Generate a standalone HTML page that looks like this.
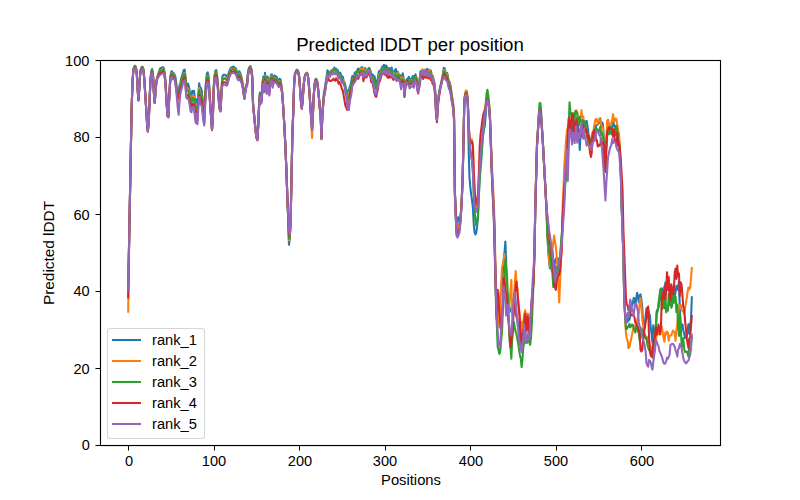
<!DOCTYPE html>
<html>
<head>
<meta charset="utf-8">
<title>Predicted lDDT per position</title>
<style>
html,body{margin:0;padding:0;background:#ffffff;}
body{width:800px;height:500px;overflow:hidden;position:relative;font-family:"Liberation Sans",sans-serif;color:#000;}
svg{position:absolute;left:0;top:0;display:block;}
.t{position:absolute;white-space:nowrap;line-height:1;font-family:"Liberation Sans",sans-serif;color:#000;}
.xt{font-size:14px;transform:translateX(-50%) scaleX(1.04);top:454px;}
.yt{font-size:14px;text-align:right;right:710.5px;transform-origin:right center;transform:scaleX(1.04);}
.lg{font-size:14px;left:152px;transform-origin:left center;transform:scaleX(1.05);}
</style>
</head>
<body>
<svg width="800" height="500" viewBox="0 0 800 500">
<rect x="0" y="0" width="800" height="500" fill="#ffffff"/>
<g fill="none" stroke-width="2.083" stroke-linejoin="round" stroke-linecap="square">
<polyline points="128.18,289.33 129.04,244.69 129.89,199.97 130.75,154.71 131.60,109.45 132.46,82.80 133.31,69.52 134.17,66.55 135.02,65.68 135.88,66.88 136.73,71.87 137.59,87.70 138.45,100.12 139.30,87.87 140.16,73.14 141.01,68.22 141.87,66.88 142.72,66.77 143.58,69.76 144.43,80.34 145.29,94.13 146.14,107.44 147.00,122.01 147.85,130.87 148.71,120.98 149.56,100.29 150.42,79.44 151.27,71.17 152.13,68.97 152.99,74.02 153.84,90.84 154.70,102.26 155.55,90.95 156.41,80.46 157.26,77.36 158.12,74.61 158.97,71.81 159.83,68.96 160.68,68.03 161.54,67.94 162.39,67.32 163.25,67.21 164.10,69.30 164.96,75.26 165.81,86.62 166.67,102.39 167.53,114.92 168.38,116.20 169.24,95.95 170.09,79.97 170.95,72.60 171.80,71.13 172.66,73.39 173.51,73.11 174.37,74.31 175.22,76.15 176.08,81.30 176.93,91.26 177.79,96.67 178.64,90.83 179.50,85.39 180.35,82.73 181.21,78.60 182.07,75.93 182.92,72.82 183.78,70.12 184.63,69.55 185.49,76.07 186.34,84.51 187.20,86.42 188.05,83.72 188.91,86.66 189.76,91.31 190.62,94.61 191.47,96.98 192.33,90.89 193.18,91.88 194.04,90.88 194.89,100.04 195.75,108.78 196.61,99.32 197.46,110.19 198.32,93.97 199.17,83.38 200.03,87.47 200.88,87.84 201.74,91.10 202.59,98.79 203.45,107.39 204.30,113.00 205.16,92.87 206.01,81.18 206.87,73.42 207.72,72.38 208.58,76.28 209.43,88.60 210.29,102.58 211.14,115.37 212.00,129.37 212.86,116.90 213.71,86.20 214.57,75.26 215.42,70.68 216.28,70.15 217.13,75.63 217.99,86.15 218.84,98.46 219.70,107.30 220.55,109.75 221.41,90.90 222.26,76.79 223.12,75.13 223.97,74.65 224.83,74.81 225.68,75.08 226.54,76.47 227.40,76.39 228.25,74.32 229.11,71.57 229.96,69.59 230.82,67.94 231.67,67.23 232.53,66.88 233.38,66.62 234.24,67.24 235.09,67.95 235.95,68.54 236.80,70.80 237.66,73.05 238.51,73.11 239.37,71.25 240.22,73.10 241.08,75.92 241.94,79.09 242.79,84.60 243.65,91.94 244.50,97.70 245.36,89.01 246.21,84.62 247.07,83.12 247.92,73.34 248.78,68.52 249.63,66.60 250.49,66.10 251.34,68.79 252.20,75.33 253.05,103.16 253.91,112.15 254.76,121.15 255.62,130.55 256.48,137.27 257.33,140.00 258.19,125.69 259.04,104.86 259.90,92.49 260.75,99.52 261.61,97.03 262.46,82.34 263.32,76.47 264.17,85.32 265.03,72.91 265.88,82.73 266.74,86.69 267.59,76.44 268.45,80.24 269.30,88.67 270.16,80.05 271.02,74.67 271.87,74.42 272.73,82.12 273.58,76.96 274.44,75.43 275.29,76.77 276.15,76.32 277.00,77.64 277.86,79.22 278.71,79.76 279.57,78.89 280.42,79.23 281.28,84.64 282.13,90.65 282.99,104.31 283.84,117.10 284.70,132.65 285.56,150.11 286.41,170.93 287.27,195.82 288.12,217.16 288.98,244.77 289.83,238.68 290.69,218.01 291.54,175.80 292.40,133.84 293.25,111.77 294.11,83.89 294.96,73.67 295.82,71.36 296.67,69.69 297.53,70.06 298.38,71.74 299.24,76.59 300.10,88.57 300.95,100.76 301.81,107.86 302.66,99.77 303.52,86.65 304.37,78.59 305.23,74.57 306.08,73.44 306.94,72.67 307.79,74.54 308.65,81.39 309.50,92.84 310.36,105.00 311.21,116.66 312.07,129.22 312.92,112.95 313.78,94.54 314.64,83.58 315.49,79.26 316.35,78.90 317.20,81.42 318.06,87.68 318.91,96.77 319.77,107.24 320.62,114.21 321.48,138.18 322.33,114.46 323.19,101.85 324.04,92.19 324.90,87.86 325.75,81.85 326.61,76.74 327.46,70.31 328.32,71.31 329.17,74.41 330.03,74.14 330.89,72.18 331.74,71.11 332.60,69.56 333.45,69.88 334.31,67.53 335.16,69.69 336.02,68.58 336.87,69.53 337.73,70.19 338.58,72.69 339.44,74.33 340.29,72.76 341.15,75.29 342.00,76.91 342.86,76.79 343.71,82.05 344.57,82.54 345.43,85.63 346.28,90.47 347.14,97.07 347.99,90.73 348.85,89.75 349.70,87.11 350.56,84.47 351.41,80.53 352.27,76.10 353.12,77.07 353.98,76.88 354.83,72.58 355.69,72.29 356.54,71.67 357.40,70.13 358.25,68.49 359.11,70.45 359.97,69.47 360.82,68.34 361.68,67.10 362.53,67.44 363.39,72.35 364.24,70.96 365.10,68.12 365.95,69.68 366.81,71.20 367.66,70.17 368.52,69.41 369.37,68.04 370.23,69.97 371.08,72.80 371.94,75.21 372.79,74.63 373.65,79.06 374.51,76.35 375.36,80.41 376.22,84.98 377.07,82.82 377.93,77.39 378.78,71.64 379.64,70.66 380.49,71.59 381.35,68.68 382.20,66.62 383.06,68.48 383.91,64.77 384.77,68.88 385.62,65.53 386.48,65.71 387.33,70.55 388.19,71.36 389.05,67.91 389.90,69.26 390.76,70.64 391.61,67.57 392.47,70.68 393.32,73.28 394.18,73.40 395.03,70.15 395.89,68.97 396.74,74.35 397.60,71.78 398.45,73.71 399.31,74.38 400.16,75.38 401.02,81.67 401.87,77.53 402.73,73.28 403.59,78.11 404.44,97.08 405.30,88.64 406.15,81.05 407.01,78.80 407.86,79.75 408.72,76.81 409.57,78.54 410.43,79.08 411.28,79.69 412.14,77.73 412.99,75.97 413.85,80.58 414.70,75.77 415.56,74.47 416.41,77.50 417.27,85.19 418.13,85.17 418.98,83.95 419.84,77.79 420.69,71.04 421.55,72.89 422.40,70.20 423.26,71.13 424.11,70.02 424.97,70.40 425.82,72.96 426.68,69.07 427.53,69.28 428.39,72.52 429.24,69.68 430.10,70.93 430.95,70.82 431.81,75.92 432.67,75.77 433.52,79.74 434.38,82.55 435.23,90.77 436.09,113.16 436.94,120.01 437.80,105.19 438.65,96.49 439.51,90.03 440.36,86.41 441.22,82.80 442.07,78.31 442.93,74.32 443.78,67.92 444.64,68.24 445.49,72.31 446.35,72.98 447.20,73.06 448.06,77.45 448.92,81.35 449.77,82.16 450.63,86.38 451.48,93.13 452.34,98.32 453.19,104.22 454.05,116.09 454.90,191.74 455.76,210.84 456.61,225.39 457.47,223.63 458.32,217.40 459.18,219.06 460.03,217.94 460.89,212.43 461.74,198.81 462.60,178.75 463.46,142.64 464.31,101.48 465.17,94.81 466.02,93.80 466.88,95.63 467.73,105.63 468.59,146.41 469.44,176.72 470.30,186.94 471.15,194.31 472.01,200.42 472.86,207.07 473.72,223.54 474.57,232.34 475.43,234.49 476.28,232.62 477.14,226.20 478.00,215.65 478.85,195.06 479.71,173.57 480.56,160.23 481.42,149.71 482.27,141.74 483.13,134.79 483.98,129.17 484.84,125.49 485.69,115.66 486.55,103.17 487.40,98.14 488.26,101.14 489.11,107.03 489.97,119.10 490.82,142.11 491.68,166.48 492.54,185.27 493.39,201.99 494.25,222.81 495.10,259.79 495.96,293.96 496.81,316.99 497.67,304.22 498.52,308.13 499.38,303.68 500.23,297.15 501.09,289.18 501.94,281.48 502.80,273.39 503.65,260.41 504.51,252.98 505.36,241.50 506.22,263.15 507.08,292.78 507.93,297.98 508.79,304.66 509.64,308.55 510.50,308.70 511.35,312.04 512.21,307.46 513.06,299.26 513.92,302.81 514.77,309.13 515.63,314.18 516.48,316.80 517.34,319.38 518.19,326.62 519.05,327.32 519.90,337.32 520.76,341.07 521.62,325.52 522.47,333.15 523.33,340.64 524.18,336.26 525.04,333.68 525.89,331.21 526.75,323.24 527.60,313.84 528.46,319.43 529.31,327.13 530.17,318.67 531.02,309.18 531.88,298.48 532.73,289.83 533.59,280.75 534.44,254.81 535.30,206.93 536.16,176.20 537.01,144.78 537.87,131.41 538.72,118.03 539.58,108.16 540.43,108.22 541.29,117.85 542.14,131.77 543.00,144.96 543.85,160.28 544.71,175.80 545.56,191.46 546.42,207.34 547.27,227.62 548.13,249.15 548.98,259.70 549.84,268.29 550.70,253.80 551.55,250.72 552.41,250.62 553.26,261.18 554.12,268.20 554.97,262.09 555.83,258.57 556.68,258.40 557.54,257.78 558.39,259.19 559.25,262.16 560.10,257.79 560.96,248.11 561.81,235.90 562.67,224.11 563.52,210.54 564.38,194.74 565.23,159.77 566.09,149.94 566.95,140.46 567.80,133.90 568.66,129.78 569.51,128.50 570.37,125.75 571.22,123.21 572.08,139.80 572.93,127.25 573.79,123.79 574.64,118.39 575.50,124.13 576.35,118.00 577.21,126.23 578.06,125.38 578.92,131.79 579.77,150.00 580.63,132.69 581.49,125.13 582.34,126.74 583.20,120.45 584.05,121.59 584.91,123.35 585.76,122.00 586.62,120.91 587.47,125.95 588.33,132.36 589.18,142.57 590.04,141.33 590.89,142.33 591.75,141.26 592.60,137.98 593.46,135.99 594.31,139.61 595.17,136.11 596.03,125.46 596.88,125.22 597.74,124.55 598.59,123.28 599.45,118.76 600.30,118.87 601.16,127.29 602.01,122.28 602.87,124.19 603.72,136.27 604.58,159.12 605.43,168.57 606.29,143.35 607.14,132.24 608.00,120.13 608.85,127.66 609.71,126.96 610.57,124.63 611.42,129.65 612.28,126.47 613.13,121.10 613.99,126.16 614.84,125.54 615.70,127.71 616.55,132.31 617.41,130.12 618.26,138.20 619.12,140.49 619.97,157.72 620.83,175.54 621.68,207.28 622.54,230.86 623.39,254.78 624.25,300.15 625.11,314.93 625.96,319.58 626.82,318.84 627.67,321.86 628.53,317.07 629.38,319.81 630.24,316.19 631.09,308.13 631.95,305.83 632.80,303.60 633.66,297.97 634.51,298.39 635.37,304.61 636.22,298.79 637.08,292.86 637.93,295.68 638.79,302.12 639.65,296.00 640.50,294.38 641.36,299.20 642.21,307.10 643.07,322.45 643.92,322.01 644.78,327.12 645.63,315.92 646.49,308.29 647.34,311.63 648.20,309.51 649.05,313.42 649.91,315.60 650.76,327.74 651.62,333.67 652.47,342.55 653.33,325.41 654.19,330.50 655.04,329.17 655.90,328.96 656.75,311.29 657.61,309.53 658.46,307.99 659.32,299.57 660.17,293.47 661.03,299.31 661.88,288.22 662.74,290.95 663.59,290.78 664.45,296.38 665.30,282.63 666.16,286.15 667.01,284.41 667.87,288.60 668.73,290.51 669.58,285.69 670.44,293.00 671.29,287.75 672.15,289.71 673.00,287.47 673.86,286.14 674.71,296.75 675.57,291.64 676.42,285.79 677.28,289.62 678.13,287.48 678.99,281.59 679.84,309.15 680.70,326.89 681.55,326.85 682.41,324.39 683.27,330.48 684.12,333.22 684.98,338.02 685.83,336.27 686.69,337.38 687.54,330.81 688.40,324.26 689.25,333.57 690.11,324.40 690.96,320.81 691.82,297.26" stroke="#1f77b4"/>
<polyline points="128.18,311.79 129.04,247.44 129.89,200.25 130.75,154.88 131.60,109.59 132.46,83.07 133.31,70.07 134.17,67.21 135.02,66.31 135.88,67.48 136.73,72.21 137.59,88.15 138.45,100.24 139.30,88.10 140.16,73.59 141.01,68.64 141.87,67.73 142.72,67.63 143.58,70.44 144.43,80.90 145.29,94.51 146.14,107.71 147.00,122.27 147.85,131.17 148.71,121.53 149.56,101.09 150.42,80.30 151.27,72.18 152.13,70.50 152.99,75.11 153.84,91.57 154.70,102.55 155.55,91.20 156.41,80.85 157.26,77.98 158.12,75.44 158.97,73.05 159.83,70.81 160.68,70.04 161.54,69.75 162.39,69.30 163.25,68.98 164.10,70.98 164.96,76.54 165.81,87.70 166.67,103.27 167.53,115.40 168.38,116.44 169.24,96.64 170.09,81.21 170.95,74.17 171.80,73.03 172.66,75.37 173.51,74.87 174.37,76.08 175.22,78.83 176.08,83.98 176.93,92.97 177.79,100.57 178.64,97.76 179.50,90.83 180.35,85.41 181.21,82.25 182.07,79.51 182.92,76.13 183.78,73.52 184.63,73.12 185.49,78.67 186.34,88.84 187.20,88.63 188.05,88.56 188.91,91.52 189.76,95.70 190.62,99.37 191.47,102.02 192.33,95.75 193.18,97.12 194.04,96.64 194.89,105.73 195.75,112.84 196.61,104.29 197.46,114.42 198.32,97.84 199.17,87.85 200.03,93.29 200.88,93.39 201.74,96.11 202.59,103.10 203.45,111.79 204.30,115.65 205.16,96.86 206.01,85.16 206.87,77.38 207.72,75.52 208.58,79.14 209.43,90.52 210.29,104.66 211.14,116.51 212.00,129.14 212.86,117.94 213.71,87.80 214.57,77.75 215.42,72.51 216.28,72.50 217.13,77.70 217.99,87.92 218.84,99.78 219.70,108.05 220.55,110.49 221.41,92.56 222.26,79.29 223.12,78.05 223.97,77.74 224.83,77.88 225.68,78.08 226.54,79.28 227.40,78.84 228.25,76.38 229.11,73.54 229.96,71.60 230.82,69.85 231.67,68.74 232.53,68.84 233.38,68.54 234.24,69.16 235.09,69.52 235.95,70.18 236.80,72.86 237.66,74.78 238.51,75.22 239.37,73.48 240.22,75.60 241.08,77.84 241.94,80.93 242.79,85.61 243.65,92.72 244.50,97.84 245.36,90.05 246.21,85.66 247.07,83.90 247.92,74.45 248.78,69.31 249.63,67.76 250.49,67.39 251.34,69.61 252.20,76.07 253.05,104.01 253.91,113.00 254.76,121.71 255.62,130.58 256.48,137.43 257.33,139.78 258.19,126.31 259.04,105.86 259.90,93.67 260.75,100.95 261.61,98.49 262.46,85.42 263.32,79.09 264.17,87.81 265.03,75.88 265.88,84.84 266.74,88.39 267.59,79.09 268.45,83.45 269.30,90.90 270.16,81.99 271.02,76.72 271.87,76.13 272.73,83.10 273.58,79.09 274.44,77.89 275.29,78.79 276.15,78.49 277.00,79.29 277.86,81.21 278.71,82.48 279.57,81.29 280.42,81.66 281.28,85.23 282.13,92.20 282.99,103.69 283.84,116.90 284.70,132.55 285.56,150.10 286.41,170.77 287.27,195.31 288.12,216.21 288.98,240.40 289.83,237.45 290.69,218.06 291.54,175.95 292.40,133.99 293.25,112.07 294.11,84.11 294.96,73.91 295.82,71.95 296.67,70.37 297.53,70.73 298.38,72.32 299.24,77.29 300.10,89.05 300.95,101.11 301.81,108.23 302.66,100.12 303.52,86.94 304.37,78.78 305.23,74.92 306.08,73.61 306.94,73.01 307.79,74.92 308.65,81.90 309.50,93.14 310.36,107.02 311.21,122.31 312.07,137.97 312.92,117.61 313.78,95.11 314.64,84.16 315.49,79.91 316.35,79.33 317.20,82.11 318.06,88.20 318.91,97.26 319.77,107.74 320.62,114.68 321.48,138.54 322.33,115.18 323.19,102.98 324.04,93.80 324.90,89.64 325.75,83.84 326.61,78.06 327.46,74.12 328.32,73.80 329.17,73.33 330.03,73.87 330.89,70.33 331.74,70.84 332.60,72.38 333.45,69.41 334.31,70.09 335.16,70.05 336.02,69.93 336.87,70.37 337.73,73.93 338.58,74.20 339.44,75.27 340.29,75.91 341.15,77.97 342.00,79.77 342.86,79.29 343.71,80.95 344.57,84.19 345.43,90.67 346.28,90.48 347.14,100.35 347.99,95.17 348.85,95.89 349.70,91.38 350.56,87.44 351.41,85.59 352.27,79.95 353.12,79.36 353.98,78.09 354.83,77.18 355.69,74.76 356.54,72.47 357.40,71.11 358.25,71.54 359.11,71.48 359.97,72.30 360.82,69.10 361.68,68.42 362.53,69.08 363.39,72.04 364.24,69.22 365.10,70.05 365.95,72.85 366.81,72.00 367.66,69.83 368.52,69.39 369.37,68.84 370.23,72.43 371.08,76.80 371.94,78.07 372.79,77.44 373.65,79.46 374.51,83.36 375.36,85.50 376.22,86.38 377.07,83.61 377.93,81.56 378.78,75.80 379.64,73.53 380.49,72.96 381.35,70.18 382.20,68.37 383.06,68.40 383.91,67.97 384.77,70.57 385.62,69.10 386.48,69.27 387.33,70.68 388.19,71.16 389.05,69.63 389.90,70.67 390.76,72.13 391.61,71.88 392.47,72.87 393.32,72.43 394.18,73.61 395.03,73.48 395.89,74.74 396.74,76.75 397.60,73.05 398.45,73.68 399.31,76.97 400.16,76.71 401.02,81.96 401.87,79.62 402.73,77.21 403.59,79.40 404.44,94.62 405.30,86.16 406.15,80.66 407.01,80.22 407.86,80.41 408.72,80.58 409.57,81.60 410.43,81.50 411.28,79.98 412.14,81.04 412.99,79.61 413.85,83.58 414.70,77.32 415.56,79.08 416.41,77.29 417.27,86.61 418.13,87.79 418.98,83.65 419.84,79.45 420.69,72.01 421.55,71.92 422.40,69.28 423.26,71.37 424.11,69.60 424.97,71.18 425.82,72.38 426.68,71.46 427.53,71.88 428.39,72.44 429.24,70.10 430.10,71.96 430.95,73.62 431.81,74.50 432.67,79.15 433.52,79.36 434.38,83.16 435.23,92.73 436.09,112.85 436.94,119.23 437.80,104.43 438.65,95.37 439.51,90.90 440.36,86.57 441.22,83.25 442.07,79.65 442.93,75.76 443.78,70.34 444.64,69.91 445.49,73.27 446.35,74.37 447.20,74.49 448.06,78.96 448.92,82.57 449.77,83.64 450.63,87.88 451.48,94.26 452.34,99.65 453.19,105.29 454.05,117.11 454.90,193.05 455.76,212.37 456.61,228.29 457.47,226.51 458.32,224.14 459.18,225.15 460.03,221.47 460.89,213.99 461.74,199.23 462.60,178.08 463.46,141.51 464.31,99.80 465.17,92.37 466.02,90.36 466.88,91.12 467.73,98.46 468.59,121.50 469.44,136.45 470.30,139.38 471.15,139.57 472.01,139.56 472.86,144.66 473.72,169.66 474.57,188.76 475.43,199.91 476.28,206.13 477.14,204.34 478.00,200.06 478.85,182.38 479.71,162.74 480.56,150.40 481.42,139.93 482.27,129.19 483.13,120.21 483.98,114.37 484.84,109.56 485.69,104.60 486.55,97.80 487.40,97.33 488.26,99.68 489.11,104.97 489.97,116.21 490.82,137.79 491.68,160.93 492.54,178.12 493.39,193.29 494.25,213.21 495.10,250.41 495.96,285.25 496.81,308.65 497.67,309.65 498.52,320.27 499.38,327.36 500.23,300.82 501.09,287.30 501.94,267.98 502.80,263.88 503.65,260.55 504.51,254.00 505.36,276.46 506.22,288.59 507.08,297.25 507.93,302.19 508.79,311.54 509.64,300.39 510.50,290.95 511.35,279.90 512.21,316.63 513.06,305.97 513.92,301.47 514.77,283.06 515.63,271.00 516.48,282.48 517.34,288.44 518.19,303.17 519.05,309.05 519.90,315.90 520.76,325.38 521.62,331.64 522.47,322.10 523.33,321.92 524.18,314.68 525.04,310.33 525.89,314.09 526.75,322.09 527.60,313.97 528.46,322.79 529.31,327.70 530.17,324.71 531.02,312.11 531.88,306.16 532.73,294.66 533.59,274.66 534.44,250.13 535.30,207.04 536.16,175.80 537.01,144.79 537.87,131.65 538.72,117.82 539.58,107.76 540.43,108.25 541.29,117.88 542.14,131.76 543.00,144.78 543.85,160.54 544.71,176.03 545.56,191.53 546.42,206.53 547.27,228.62 548.13,248.59 548.98,259.58 549.84,266.80 550.70,260.46 551.55,256.29 552.41,250.93 553.26,242.18 554.12,235.63 554.97,241.48 555.83,246.61 556.68,256.61 557.54,268.82 558.39,284.38 559.25,302.35 560.10,280.67 560.96,260.77 561.81,240.00 562.67,205.85 563.52,186.77 564.38,164.83 565.23,152.86 566.09,139.93 566.95,130.50 567.80,127.31 568.66,124.21 569.51,123.42 570.37,120.70 571.22,123.05 572.08,122.48 572.93,118.91 573.79,120.05 574.64,118.28 575.50,111.07 576.35,110.26 577.21,113.60 578.06,120.02 578.92,119.98 579.77,122.04 580.63,117.47 581.49,110.35 582.34,117.42 583.20,116.46 584.05,123.05 584.91,122.96 585.76,128.44 586.62,129.12 587.47,133.63 588.33,134.77 589.18,147.22 590.04,154.21 590.89,141.40 591.75,140.93 592.60,133.33 593.46,131.37 594.31,125.22 595.17,120.51 596.03,118.76 596.88,119.88 597.74,124.14 598.59,120.94 599.45,120.47 600.30,118.00 601.16,124.62 602.01,126.68 602.87,128.77 603.72,137.68 604.58,155.82 605.43,167.49 606.29,141.45 607.14,120.87 608.00,120.40 608.85,123.49 609.71,130.72 610.57,129.59 611.42,123.03 612.28,118.88 613.13,114.16 613.99,121.44 614.84,120.60 615.70,118.35 616.55,119.79 617.41,125.68 618.26,130.76 619.12,134.19 619.97,151.46 620.83,169.98 621.68,206.58 622.54,230.99 623.39,254.84 624.25,299.90 625.11,317.06 625.96,333.37 626.82,339.03 627.67,340.70 628.53,348.12 629.38,347.50 630.24,343.33 631.09,339.32 631.95,334.96 632.80,330.90 633.66,326.14 634.51,329.06 635.37,325.06 636.22,324.85 637.08,320.59 637.93,317.52 638.79,312.96 639.65,303.31 640.50,297.99 641.36,305.60 642.21,318.48 643.07,325.93 643.92,330.64 644.78,333.80 645.63,337.68 646.49,336.59 647.34,338.97 648.20,343.27 649.05,343.58 649.91,344.13 650.76,347.53 651.62,349.78 652.47,351.88 653.33,345.60 654.19,341.44 655.04,339.82 655.90,340.05 656.75,334.39 657.61,334.32 658.46,334.01 659.32,332.86 660.17,332.59 661.03,330.65 661.88,326.56 662.74,332.89 663.59,337.96 664.45,341.67 665.30,332.65 666.16,334.37 667.01,331.57 667.87,333.11 668.73,340.68 669.58,335.91 670.44,335.49 671.29,335.42 672.15,332.72 673.00,330.58 673.86,331.80 674.71,332.59 675.57,340.79 676.42,329.77 677.28,324.75 678.13,314.16 678.99,307.81 679.84,305.13 680.70,304.89 681.55,310.19 682.41,310.38 683.27,311.61 684.12,313.74 684.98,307.98 685.83,303.53 686.69,298.25 687.54,292.26 688.40,287.55 689.25,289.62 690.11,287.86 690.96,278.66 691.82,268.00" stroke="#ff7f0e"/>
<polyline points="128.18,289.59 129.04,245.03 129.89,200.18 130.75,154.84 131.60,109.75 132.46,83.13 133.31,70.18 134.17,67.46 135.02,66.64 135.88,67.63 136.73,72.52 137.59,88.23 138.45,100.18 139.30,88.13 140.16,73.72 141.01,68.98 141.87,67.96 142.72,67.77 143.58,70.57 144.43,81.09 145.29,94.63 146.14,107.73 147.00,122.38 147.85,131.16 148.71,121.63 149.56,101.22 150.42,80.63 151.27,72.53 152.13,70.87 152.99,75.39 153.84,91.84 154.70,102.67 155.55,91.41 156.41,81.03 157.26,78.06 158.12,75.62 158.97,73.52 159.83,71.43 160.68,70.64 161.54,70.44 162.39,69.92 163.25,69.63 164.10,71.54 164.96,76.95 165.81,88.12 166.67,103.52 167.53,115.55 168.38,116.61 169.24,96.95 170.09,81.56 170.95,74.80 171.80,73.49 172.66,76.00 173.51,75.46 174.37,76.06 175.22,79.21 176.08,85.03 176.93,92.31 177.79,97.33 178.64,93.15 179.50,88.75 180.35,86.35 181.21,83.46 182.07,80.84 182.92,76.63 183.78,74.33 184.63,74.43 185.49,79.87 186.34,90.12 187.20,90.47 188.05,90.72 188.91,92.83 189.76,97.20 190.62,102.61 191.47,103.22 192.33,98.24 193.18,98.30 194.04,99.16 194.89,107.75 195.75,114.38 196.61,106.11 197.46,115.39 198.32,99.19 199.17,90.26 200.03,94.47 200.88,95.04 201.74,97.04 202.59,104.59 203.45,113.76 204.30,117.92 205.16,98.61 206.01,85.41 206.87,78.24 207.72,76.21 208.58,80.17 209.43,91.87 210.29,105.21 211.14,116.41 212.00,129.50 212.86,118.26 213.71,88.17 214.57,78.19 215.42,73.29 216.28,73.45 217.13,78.29 217.99,88.53 218.84,99.96 219.70,108.48 220.55,110.70 221.41,93.09 222.26,80.35 223.12,79.09 223.97,78.79 224.83,78.62 225.68,79.10 226.54,80.22 227.40,79.88 228.25,77.15 229.11,74.21 229.96,72.22 230.82,70.47 231.67,69.71 232.53,69.52 233.38,69.23 234.24,69.85 235.09,70.45 235.95,70.99 236.80,73.31 237.66,75.44 238.51,75.94 239.37,74.42 240.22,76.14 241.08,78.28 241.94,81.38 242.79,85.88 243.65,93.06 244.50,98.03 245.36,90.34 246.21,86.01 247.07,84.11 247.92,74.64 248.78,69.62 249.63,68.03 250.49,67.75 251.34,69.92 252.20,76.39 253.05,103.97 253.91,113.03 254.76,121.92 255.62,130.66 256.48,137.45 257.33,139.93 258.19,126.62 259.04,106.15 259.90,94.14 260.75,101.39 261.61,99.51 262.46,86.03 263.32,79.76 264.17,87.95 265.03,76.57 265.88,85.50 266.74,89.64 267.59,80.52 268.45,84.33 269.30,91.54 270.16,82.77 271.02,77.40 271.87,77.16 272.73,83.84 273.58,79.42 274.44,78.37 275.29,78.99 276.15,79.12 277.00,80.02 277.86,81.45 278.71,83.26 279.57,82.04 280.42,82.14 281.28,86.11 282.13,92.46 282.99,103.62 283.84,116.92 284.70,132.49 285.56,150.04 286.41,170.65 287.27,195.15 288.12,215.81 288.98,238.89 289.83,236.95 290.69,218.05 291.54,175.95 292.40,134.00 293.25,112.12 294.11,84.25 294.96,74.20 295.82,72.17 296.67,70.56 297.53,71.00 298.38,72.54 299.24,77.44 300.10,89.14 300.95,101.22 301.81,108.27 302.66,100.16 303.52,87.00 304.37,78.88 305.23,75.08 306.08,73.80 306.94,73.19 307.79,75.18 308.65,81.92 309.50,93.24 310.36,105.54 311.21,116.92 312.07,129.52 312.92,113.49 313.78,95.18 314.64,84.21 315.49,80.13 316.35,79.67 317.20,82.19 318.06,88.44 318.91,97.49 319.77,107.77 320.62,114.81 321.48,138.69 322.33,115.28 323.19,103.33 324.04,94.24 324.90,90.29 325.75,84.05 326.61,78.17 327.46,73.77 328.32,74.67 329.17,72.54 330.03,74.72 330.89,72.00 331.74,71.36 332.60,72.80 333.45,70.07 334.31,69.49 335.16,70.47 336.02,71.05 336.87,70.39 337.73,72.67 338.58,75.43 339.44,76.70 340.29,76.66 341.15,77.22 342.00,78.13 342.86,79.99 343.71,83.60 344.57,83.12 345.43,88.53 346.28,92.32 347.14,101.49 347.99,98.40 348.85,98.33 349.70,93.99 350.56,87.28 351.41,87.10 352.27,79.71 353.12,80.73 353.98,78.18 354.83,78.22 355.69,75.08 356.54,72.85 357.40,70.56 358.25,71.95 359.11,72.17 359.97,72.47 360.82,70.72 361.68,70.71 362.53,71.99 363.39,72.76 364.24,70.93 365.10,72.86 365.95,73.96 366.81,72.35 367.66,71.47 368.52,68.01 369.37,69.26 370.23,72.41 371.08,76.18 371.94,77.14 372.79,76.77 373.65,79.74 374.51,82.14 375.36,85.87 376.22,89.24 377.07,85.53 377.93,80.96 378.78,76.51 379.64,76.53 380.49,73.41 381.35,71.97 382.20,69.36 383.06,69.50 383.91,67.14 384.77,70.50 385.62,69.34 386.48,69.47 387.33,71.87 388.19,71.90 389.05,69.64 389.90,71.42 390.76,71.56 391.61,70.11 392.47,74.32 393.32,74.48 394.18,74.81 395.03,76.21 395.89,75.00 396.74,76.72 397.60,76.07 398.45,75.22 399.31,77.48 400.16,79.67 401.02,84.69 401.87,79.96 402.73,79.19 403.59,79.95 404.44,93.95 405.30,86.36 406.15,82.32 407.01,79.36 407.86,81.79 408.72,80.36 409.57,81.61 410.43,81.05 411.28,82.51 412.14,82.30 412.99,78.96 413.85,82.51 414.70,77.14 415.56,77.67 416.41,78.27 417.27,85.26 418.13,88.13 418.98,83.89 419.84,78.28 420.69,72.02 421.55,72.08 422.40,71.49 423.26,71.59 424.11,70.88 424.97,71.61 425.82,71.89 426.68,72.10 427.53,73.71 428.39,74.05 429.24,72.16 430.10,73.31 430.95,74.45 431.81,76.42 432.67,79.40 433.52,80.16 434.38,84.19 435.23,92.31 436.09,111.09 436.94,118.36 437.80,104.78 438.65,95.39 439.51,91.30 440.36,86.81 441.22,83.89 442.07,80.07 442.93,76.17 443.78,71.56 444.64,71.48 445.49,74.67 446.35,75.67 447.20,76.07 448.06,80.47 448.92,84.24 449.77,85.33 450.63,89.33 451.48,95.44 452.34,100.63 453.19,106.22 454.05,118.12 454.90,193.82 455.76,216.25 456.61,234.60 457.47,235.88 458.32,234.18 459.18,232.28 460.03,225.70 460.89,215.39 461.74,200.37 462.60,179.43 463.46,142.73 464.31,101.62 465.17,94.34 466.02,92.62 466.88,92.95 467.73,100.56 468.59,123.30 469.44,141.42 470.30,150.03 471.15,155.41 472.01,160.58 472.86,171.17 473.72,194.36 474.57,210.81 475.43,219.63 476.28,225.58 477.14,222.72 478.00,215.28 478.85,196.20 479.71,179.04 480.56,169.76 481.42,159.44 482.27,146.22 483.13,134.75 483.98,124.17 484.84,114.79 485.69,105.22 486.55,93.77 487.40,89.78 488.26,94.99 489.11,103.01 489.97,117.11 490.82,142.01 491.68,169.16 492.54,189.84 493.39,208.56 494.25,231.01 495.10,267.66 495.96,302.01 496.81,324.64 497.67,346.96 498.52,350.06 499.38,353.95 500.23,351.65 501.09,341.48 501.94,332.89 502.80,312.00 503.65,290.24 504.51,275.63 505.36,259.54 506.22,268.48 507.08,277.26 507.93,297.63 508.79,320.36 509.64,341.37 510.50,347.34 511.35,358.70 512.21,339.23 513.06,331.77 513.92,322.15 514.77,327.24 515.63,331.17 516.48,334.41 517.34,339.41 518.19,342.97 519.05,349.61 519.90,354.91 520.76,358.57 521.62,367.05 522.47,358.99 523.33,347.24 524.18,343.39 525.04,334.77 525.89,341.35 526.75,343.06 527.60,340.49 528.46,337.17 529.31,342.53 530.17,344.79 531.02,337.46 531.88,323.14 532.73,301.66 533.59,280.54 534.44,250.11 535.30,207.25 536.16,175.78 537.01,144.70 537.87,130.28 538.72,115.06 539.58,103.24 540.43,103.12 541.29,114.99 542.14,130.23 543.00,145.29 543.85,160.62 544.71,176.02 545.56,191.47 546.42,207.07 547.27,235.22 548.13,243.36 548.98,251.21 549.84,255.25 550.70,262.75 551.55,269.66 552.41,273.30 553.26,286.98 554.12,278.81 554.97,273.38 555.83,266.70 556.68,269.11 557.54,273.96 558.39,266.58 559.25,264.00 560.10,256.22 560.96,244.85 561.81,234.26 562.67,219.61 563.52,206.37 564.38,195.85 565.23,184.73 566.09,178.20 566.95,172.18 567.80,165.44 568.66,130.42 569.51,102.25 570.37,112.19 571.22,113.43 572.08,120.54 572.93,113.14 573.79,118.52 574.64,116.16 575.50,111.09 576.35,111.66 577.21,112.29 578.06,122.00 578.92,125.19 579.77,116.90 580.63,121.54 581.49,122.69 582.34,120.01 583.20,120.61 584.05,126.73 584.91,121.20 585.76,126.50 586.62,128.89 587.47,133.53 588.33,142.68 589.18,137.34 590.04,141.07 590.89,138.77 591.75,140.88 592.60,132.46 593.46,132.12 594.31,136.16 595.17,128.58 596.03,128.84 596.88,129.05 597.74,129.61 598.59,131.77 599.45,130.69 600.30,126.87 601.16,134.72 602.01,132.86 602.87,137.12 603.72,139.66 604.58,160.41 605.43,172.18 606.29,148.23 607.14,135.36 608.00,134.70 608.85,129.39 609.71,134.07 610.57,126.74 611.42,132.43 612.28,134.83 613.13,130.26 613.99,135.80 614.84,127.56 615.70,135.17 616.55,125.94 617.41,132.82 618.26,140.81 619.12,142.63 619.97,157.42 620.83,175.23 621.68,207.22 622.54,230.53 623.39,255.36 624.25,300.21 625.11,316.26 625.96,328.57 626.82,329.04 627.67,326.56 628.53,326.74 629.38,323.77 630.24,327.52 631.09,326.18 631.95,324.54 632.80,324.75 633.66,327.99 634.51,330.34 635.37,332.63 636.22,326.98 637.08,327.96 637.93,331.32 638.79,332.56 639.65,340.61 640.50,336.96 641.36,328.66 642.21,329.93 643.07,330.42 643.92,336.14 644.78,335.05 645.63,338.79 646.49,337.63 647.34,344.44 648.20,347.45 649.05,350.13 649.91,351.17 650.76,353.48 651.62,354.89 652.47,357.77 653.33,348.57 654.19,344.96 655.04,333.44 655.90,325.43 656.75,312.31 657.61,311.78 658.46,303.35 659.32,297.61 660.17,289.77 661.03,288.49 661.88,309.22 662.74,305.56 663.59,296.81 664.45,308.55 665.30,290.92 666.16,312.37 667.01,309.46 667.87,310.67 668.73,293.68 669.58,305.33 670.44,286.74 671.29,307.78 672.15,305.76 673.00,290.13 673.86,302.79 674.71,296.16 675.57,296.39 676.42,312.31 677.28,304.46 678.13,327.27 678.99,335.97 679.84,314.02 680.70,324.93 681.55,344.14 682.41,346.53 683.27,338.33 684.12,348.80 684.98,352.01 685.83,351.82 686.69,351.57 687.54,353.29 688.40,356.54 689.25,345.52 690.11,343.49 690.96,343.54 691.82,337.79" stroke="#2ca02c"/>
<polyline points="128.18,297.35 129.04,248.11 129.89,200.78 130.75,155.11 131.60,109.84 132.46,83.51 133.31,70.75 134.17,68.08 135.02,67.51 135.88,68.39 136.73,73.06 137.59,88.61 138.45,100.42 139.30,88.40 140.16,74.19 141.01,69.58 141.87,68.72 142.72,68.59 143.58,71.27 144.43,81.61 145.29,95.07 146.14,108.07 147.00,122.60 147.85,131.53 148.71,122.14 149.56,102.08 150.42,81.62 151.27,73.81 152.13,72.38 152.99,76.42 153.84,92.45 154.70,102.91 155.55,91.79 156.41,81.59 157.26,78.77 158.12,76.84 158.97,75.16 159.83,73.62 160.68,72.91 161.54,72.49 162.39,72.15 163.25,71.67 164.10,73.35 164.96,78.56 165.81,89.36 166.67,104.39 167.53,116.10 168.38,117.23 169.24,98.03 170.09,82.99 170.95,76.70 171.80,75.62 172.66,77.80 173.51,77.26 174.37,78.54 175.22,81.29 176.08,87.71 176.93,93.95 177.79,98.02 178.64,96.98 179.50,91.93 180.35,90.19 181.21,87.58 182.07,85.07 182.92,80.72 183.78,78.59 184.63,77.72 185.49,85.27 186.34,94.78 187.20,94.87 188.05,95.98 188.91,97.88 189.76,101.23 190.62,107.17 191.47,109.10 192.33,103.71 193.18,104.50 194.04,104.42 194.89,114.05 195.75,120.10 196.61,111.33 197.46,120.42 198.32,104.31 199.17,95.24 200.03,98.63 200.88,100.46 201.74,102.38 202.59,110.70 203.45,117.48 204.30,122.75 205.16,102.54 206.01,90.35 206.87,82.25 207.72,80.09 208.58,82.81 209.43,93.80 210.29,106.12 211.14,117.61 212.00,130.12 212.86,119.07 213.71,89.37 214.57,79.95 215.42,76.03 216.28,75.89 217.13,80.18 217.99,89.98 218.84,101.28 219.70,109.12 220.55,111.15 221.41,94.84 222.26,83.41 223.12,82.69 223.97,82.25 224.83,82.28 225.68,82.43 226.54,83.50 227.40,82.52 228.25,79.74 229.11,76.52 229.96,74.18 230.82,72.59 231.67,71.68 232.53,71.71 233.38,71.46 234.24,71.84 235.09,72.25 235.95,72.97 236.80,75.49 237.66,77.99 238.51,78.46 239.37,77.32 240.22,78.69 241.08,80.68 241.94,83.19 242.79,87.25 243.65,94.05 244.50,98.67 245.36,91.18 246.21,87.06 247.07,85.46 247.92,75.79 248.78,70.97 249.63,69.31 250.49,68.81 251.34,70.99 252.20,77.34 253.05,105.10 253.91,113.86 254.76,122.52 255.62,131.23 256.48,137.55 257.33,140.24 258.19,127.16 259.04,107.39 259.90,95.48 260.75,103.07 261.61,101.34 262.46,88.43 263.32,82.52 264.17,90.77 265.03,79.50 265.88,88.48 266.74,91.93 267.59,83.12 268.45,87.22 269.30,94.06 270.16,85.32 271.02,80.25 271.87,78.85 272.73,86.19 273.58,81.89 274.44,80.58 275.29,81.11 276.15,81.60 277.00,82.64 277.86,83.71 278.71,85.92 279.57,85.31 280.42,84.19 281.28,87.52 282.13,93.24 282.99,103.83 283.84,117.11 284.70,132.39 285.56,149.99 286.41,170.35 287.27,194.51 288.12,214.82 288.98,233.74 289.83,235.59 290.69,218.06 291.54,175.87 292.40,134.20 293.25,112.33 294.11,84.63 294.96,74.60 295.82,72.71 296.67,71.29 297.53,71.62 298.38,73.10 299.24,77.86 300.10,89.59 300.95,101.59 301.81,108.70 302.66,100.47 303.52,87.47 304.37,79.29 305.23,75.36 306.08,74.19 306.94,73.47 307.79,75.45 308.65,82.26 309.50,93.51 310.36,105.82 311.21,117.39 312.07,129.95 312.92,113.95 313.78,95.73 314.64,84.85 315.49,80.81 316.35,80.39 317.20,82.94 318.06,89.13 318.91,97.87 319.77,108.29 320.62,115.22 321.48,138.98 322.33,116.15 323.19,104.48 324.04,95.94 324.90,92.43 325.75,87.34 326.61,81.62 327.46,78.30 328.32,78.39 329.17,80.64 330.03,80.88 330.89,80.93 331.74,80.32 332.60,80.14 333.45,78.71 334.31,79.98 335.16,80.75 336.02,78.33 336.87,80.03 337.73,80.49 338.58,83.71 339.44,82.08 340.29,84.03 341.15,86.27 342.00,89.42 342.86,90.34 343.71,96.08 344.57,100.70 345.43,105.74 346.28,107.60 347.14,109.74 347.99,106.71 348.85,107.49 349.70,98.28 350.56,92.29 351.41,90.55 352.27,84.65 353.12,83.57 353.98,81.24 354.83,80.45 355.69,77.13 356.54,77.70 357.40,76.14 358.25,78.81 359.11,76.45 359.97,72.85 360.82,74.93 361.68,74.58 362.53,73.71 363.39,81.23 364.24,76.89 365.10,77.24 365.95,77.57 366.81,77.09 367.66,75.19 368.52,73.17 369.37,73.62 370.23,75.83 371.08,81.47 371.94,82.51 372.79,83.71 373.65,88.26 374.51,93.20 375.36,96.16 376.22,96.82 377.07,92.59 377.93,89.36 378.78,82.60 379.64,81.63 380.49,79.39 381.35,75.54 382.20,74.60 383.06,72.84 383.91,71.29 384.77,74.78 385.62,74.63 386.48,74.79 387.33,77.36 388.19,77.75 389.05,75.87 389.90,77.44 390.76,77.45 391.61,75.48 392.47,77.94 393.32,79.84 394.18,78.84 395.03,79.40 395.89,78.76 396.74,80.34 397.60,77.90 398.45,78.18 399.31,80.40 400.16,82.10 401.02,85.94 401.87,82.27 402.73,81.36 403.59,82.59 404.44,95.42 405.30,85.76 406.15,81.47 407.01,80.69 407.86,83.57 408.72,83.66 409.57,85.20 410.43,84.02 411.28,83.62 412.14,82.53 412.99,83.12 413.85,84.56 414.70,80.00 415.56,79.63 416.41,81.84 417.27,89.80 418.13,93.60 418.98,88.63 419.84,85.08 420.69,76.08 421.55,77.10 422.40,74.74 423.26,78.95 424.11,76.16 424.97,76.69 425.82,77.61 426.68,75.78 427.53,78.22 428.39,78.33 429.24,75.64 430.10,78.42 430.95,80.30 431.81,80.47 432.67,83.95 433.52,84.73 434.38,88.77 435.23,96.11 436.09,113.59 436.94,122.11 437.80,107.61 438.65,99.22 439.51,94.37 440.36,88.71 441.22,84.57 442.07,80.27 442.93,77.29 443.78,74.15 444.64,74.68 445.49,77.59 446.35,78.86 447.20,78.93 448.06,83.39 448.92,86.94 449.77,88.20 450.63,91.91 451.48,98.21 452.34,103.02 453.19,108.14 454.05,119.30 454.90,194.06 455.76,215.13 456.61,232.37 457.47,232.65 458.32,230.38 459.18,229.71 460.03,224.14 460.89,215.20 461.74,200.60 462.60,179.91 463.46,143.20 464.31,102.09 465.17,95.19 466.02,93.52 466.88,93.53 467.73,100.08 468.59,121.72 469.44,137.27 470.30,141.33 471.15,142.56 472.01,141.79 472.86,146.82 473.72,171.14 474.57,189.47 475.43,199.18 476.28,204.62 477.14,201.54 478.00,194.23 478.85,172.98 479.71,146.87 480.56,134.63 481.42,127.88 482.27,120.83 483.13,115.59 483.98,112.09 484.84,110.05 485.69,106.42 486.55,100.06 487.40,99.45 488.26,102.30 489.11,107.48 489.97,119.14 490.82,143.62 491.68,169.68 492.54,189.94 493.39,206.89 494.25,227.29 495.10,263.65 495.96,297.53 496.81,319.96 497.67,289.77 498.52,301.43 499.38,311.68 500.23,322.20 501.09,330.77 501.94,317.31 502.80,302.35 503.65,277.89 504.51,281.89 505.36,292.59 506.22,292.38 507.08,302.19 507.93,315.05 508.79,324.18 509.64,334.03 510.50,347.05 511.35,341.81 512.21,329.43 513.06,321.34 513.92,309.62 514.77,292.58 515.63,288.21 516.48,281.45 517.34,291.20 518.19,300.39 519.05,311.02 519.90,321.87 520.76,342.86 521.62,340.47 522.47,346.51 523.33,332.49 524.18,325.63 525.04,313.68 525.89,324.56 526.75,330.84 527.60,316.02 528.46,324.21 529.31,333.97 530.17,329.64 531.02,318.51 531.88,299.69 532.73,290.90 533.59,279.64 534.44,255.18 535.30,206.87 536.16,176.00 537.01,145.08 537.87,132.38 538.72,120.12 539.58,110.13 540.43,109.95 541.29,120.01 542.14,132.28 543.00,144.79 543.85,160.66 544.71,175.75 545.56,191.36 546.42,206.88 547.27,215.49 548.13,224.27 548.98,233.06 549.84,241.98 550.70,250.32 551.55,253.60 552.41,263.21 553.26,270.42 554.12,282.46 554.97,287.30 555.83,289.83 556.68,280.94 557.54,276.80 558.39,276.21 559.25,273.89 560.10,270.48 560.96,258.57 561.81,250.89 562.67,216.12 563.52,200.14 564.38,185.06 565.23,177.52 566.09,170.23 566.95,160.45 567.80,135.96 568.66,118.37 569.51,127.12 570.37,130.26 571.22,119.52 572.08,114.20 572.93,116.45 573.79,132.65 574.64,126.41 575.50,123.20 576.35,120.04 577.21,127.68 578.06,134.00 578.92,139.99 579.77,135.48 580.63,137.28 581.49,128.57 582.34,136.29 583.20,124.84 584.05,132.45 584.91,132.18 585.76,129.22 586.62,130.20 587.47,138.64 588.33,135.18 589.18,136.03 590.04,148.54 590.89,156.95 591.75,152.62 592.60,136.05 593.46,131.39 594.31,129.99 595.17,134.30 596.03,139.09 596.88,140.25 597.74,146.49 598.59,144.89 599.45,145.61 600.30,144.91 601.16,138.67 602.01,144.48 602.87,141.97 603.72,144.38 604.58,163.68 605.43,171.13 606.29,147.01 607.14,131.63 608.00,129.64 608.85,127.19 609.71,128.83 610.57,128.24 611.42,128.44 612.28,128.50 613.13,136.65 613.99,129.57 614.84,141.31 615.70,142.19 616.55,144.43 617.41,133.12 618.26,145.90 619.12,144.66 619.97,149.55 620.83,160.14 621.68,174.97 622.54,190.14 623.39,229.89 624.25,251.80 625.11,275.70 625.96,298.25 626.82,304.84 627.67,305.35 628.53,310.51 629.38,310.95 630.24,314.16 631.09,315.21 631.95,315.13 632.80,314.90 633.66,315.92 634.51,317.33 635.37,322.89 636.22,322.98 637.08,325.85 637.93,326.54 638.79,329.11 639.65,335.12 640.50,349.75 641.36,351.51 642.21,350.33 643.07,340.89 643.92,332.78 644.78,327.77 645.63,321.82 646.49,317.72 647.34,308.24 648.20,306.53 649.05,337.67 649.91,350.74 650.76,355.73 651.62,356.46 652.47,349.90 653.33,343.12 654.19,339.01 655.04,336.33 655.90,327.90 656.75,334.68 657.61,330.17 658.46,324.60 659.32,330.22 660.17,334.47 661.03,324.42 661.88,296.26 662.74,292.97 663.59,298.27 664.45,286.43 665.30,299.26 666.16,291.48 667.01,272.17 667.87,289.74 668.73,277.15 669.58,296.09 670.44,300.71 671.29,284.20 672.15,290.02 673.00,294.08 673.86,289.56 674.71,272.65 675.57,268.59 676.42,278.97 677.28,265.64 678.13,276.50 678.99,273.53 679.84,295.93 680.70,282.29 681.55,284.52 682.41,294.58 683.27,307.30 684.12,307.96 684.98,319.70 685.83,328.28 686.69,338.19 687.54,343.05 688.40,347.80 689.25,338.59 690.11,337.39 690.96,327.05 691.82,316.20" stroke="#d62728"/>
<polyline points="128.18,289.83 129.04,245.34 129.89,200.44 130.75,155.09 131.60,109.94 132.46,83.63 133.31,71.12 134.17,68.49 135.02,68.05 135.88,68.85 136.73,73.26 137.59,88.85 138.45,100.44 139.30,88.65 140.16,74.55 141.01,69.93 141.87,69.19 142.72,69.01 143.58,71.64 144.43,82.04 145.29,95.30 146.14,108.34 147.00,122.66 147.85,131.62 148.71,122.47 149.56,102.53 150.42,82.26 151.27,74.70 152.13,73.45 152.99,77.25 153.84,93.01 154.70,103.23 155.55,92.07 156.41,81.85 157.26,79.09 158.12,77.41 158.97,76.25 159.83,75.07 160.68,74.40 161.54,74.13 162.39,73.63 163.25,73.16 164.10,74.55 164.96,79.53 165.81,90.00 166.67,104.87 167.53,116.45 168.38,117.45 169.24,98.60 170.09,84.09 170.95,78.03 171.80,76.98 172.66,79.22 173.51,78.60 174.37,79.25 175.22,82.60 176.08,88.90 176.93,98.58 177.79,108.05 178.64,114.82 179.50,102.77 180.35,93.89 181.21,90.28 182.07,87.40 182.92,83.42 183.78,80.71 184.63,80.05 185.49,86.83 186.34,97.33 187.20,98.71 188.05,97.81 188.91,100.47 189.76,105.65 190.62,111.55 191.47,112.30 192.33,107.27 193.18,108.02 194.04,106.91 194.89,117.03 195.75,122.89 196.61,113.77 197.46,124.30 198.32,106.74 199.17,97.16 200.03,102.70 200.88,104.50 201.74,106.26 202.59,113.85 203.45,121.78 204.30,125.52 205.16,105.44 206.01,93.11 206.87,84.69 207.72,82.02 208.58,84.66 209.43,95.39 210.29,107.36 211.14,118.19 212.00,129.70 212.86,119.03 213.71,90.30 214.57,81.29 215.42,77.52 216.28,77.87 217.13,81.66 217.99,91.26 218.84,101.90 219.70,109.57 220.55,111.55 221.41,96.19 222.26,85.78 223.12,85.18 223.97,84.75 224.83,84.57 225.68,84.69 226.54,85.74 227.40,84.74 228.25,81.30 229.11,77.82 229.96,75.80 230.82,74.04 231.67,73.06 232.53,73.06 233.38,72.91 234.24,73.42 235.09,73.81 235.95,74.12 236.80,77.09 237.66,79.46 238.51,80.30 239.37,78.93 240.22,80.44 241.08,81.96 241.94,84.22 242.79,88.27 243.65,94.72 244.50,99.02 245.36,91.60 246.21,87.79 247.07,85.89 247.92,76.39 248.78,71.47 249.63,69.81 250.49,69.57 251.34,71.55 252.20,77.94 253.05,105.40 253.91,114.10 254.76,122.92 255.62,131.28 256.48,137.85 257.33,140.27 258.19,127.49 259.04,107.73 259.90,96.13 260.75,103.99 261.61,102.67 262.46,89.85 263.32,83.75 264.17,92.31 265.03,81.19 265.88,90.24 266.74,93.98 267.59,84.82 268.45,88.91 269.30,95.51 270.16,86.92 271.02,81.28 271.87,80.19 272.73,87.61 273.58,82.75 274.44,82.01 275.29,82.67 276.15,82.68 277.00,83.96 277.86,85.61 278.71,86.97 279.57,86.57 280.42,85.55 281.28,88.06 282.13,93.45 282.99,104.13 283.84,116.88 284.70,132.33 285.56,150.03 286.41,169.98 287.27,193.85 288.12,213.98 288.98,230.04 289.83,234.52 290.69,217.98 291.54,175.89 292.40,134.19 293.25,112.49 294.11,84.90 294.96,74.91 295.82,73.01 296.67,71.69 297.53,72.13 298.38,73.44 299.24,78.28 300.10,89.93 300.95,101.96 301.81,108.87 302.66,100.67 303.52,87.61 304.37,79.50 305.23,75.54 306.08,74.44 306.94,73.73 307.79,75.63 308.65,82.50 309.50,93.77 310.36,106.07 311.21,117.56 312.07,130.03 312.92,114.08 313.78,96.06 314.64,85.20 315.49,81.20 316.35,80.74 317.20,83.27 318.06,89.46 318.91,98.19 319.77,108.52 320.62,115.43 321.48,139.18 322.33,116.61 323.19,105.30 324.04,97.07 324.90,93.92 325.75,86.86 326.61,81.16 327.46,74.91 328.32,76.18 329.17,76.51 330.03,76.87 330.89,73.50 331.74,73.80 332.60,74.50 333.45,71.85 334.31,73.42 335.16,74.44 336.02,72.03 336.87,74.03 337.73,75.71 338.58,78.58 339.44,78.34 340.29,77.84 341.15,80.82 342.00,82.59 342.86,81.45 343.71,84.99 344.57,85.98 345.43,93.90 346.28,95.66 347.14,105.66 347.99,108.40 348.85,110.16 349.70,101.44 350.56,97.91 351.41,94.03 352.27,85.89 353.12,84.64 353.98,82.81 354.83,82.24 355.69,80.27 356.54,77.85 357.40,74.53 358.25,76.59 359.11,75.20 359.97,75.27 360.82,73.83 361.68,72.91 362.53,74.06 363.39,77.19 364.24,73.06 365.10,73.72 365.95,76.33 366.81,75.49 367.66,72.93 368.52,70.56 369.37,71.04 370.23,73.39 371.08,77.21 371.94,80.51 372.79,80.26 373.65,87.02 374.51,90.65 375.36,94.42 376.22,94.00 377.07,90.05 377.93,86.77 378.78,79.32 379.64,79.64 380.49,77.16 381.35,75.51 382.20,72.85 383.06,72.07 383.91,69.90 384.77,73.38 385.62,71.01 386.48,71.07 387.33,74.18 388.19,74.48 389.05,71.09 389.90,73.78 390.76,73.88 391.61,73.67 392.47,77.50 393.32,77.21 394.18,77.19 395.03,79.03 395.89,77.90 396.74,81.18 397.60,79.04 398.45,79.49 399.31,80.74 400.16,82.58 401.02,89.31 401.87,84.38 402.73,83.78 403.59,83.56 404.44,94.80 405.30,86.17 406.15,81.87 407.01,83.29 407.86,84.81 408.72,85.11 409.57,88.42 410.43,87.38 411.28,86.89 412.14,86.53 412.99,82.95 413.85,87.71 414.70,79.67 415.56,82.06 416.41,82.50 417.27,89.32 418.13,92.60 418.98,86.64 419.84,82.78 420.69,73.32 421.55,73.85 422.40,71.62 423.26,74.70 424.11,70.73 424.97,73.32 425.82,75.37 426.68,72.76 427.53,74.81 428.39,76.70 429.24,72.78 430.10,75.40 430.95,77.16 431.81,77.66 432.67,82.03 433.52,80.35 434.38,86.79 435.23,93.04 436.09,113.14 436.94,119.95 437.80,104.86 438.65,96.33 439.51,91.92 440.36,87.58 441.22,84.98 442.07,81.47 442.93,78.82 443.78,76.93 444.64,77.26 445.49,79.56 446.35,80.73 447.20,80.79 448.06,85.04 448.92,89.02 449.77,90.05 450.63,93.96 451.48,100.03 452.34,104.74 453.19,109.79 454.05,120.40 454.90,194.85 455.76,217.32 456.61,235.91 457.47,237.65 458.32,235.68 459.18,233.70 460.03,226.67 460.89,216.20 461.74,201.21 462.60,180.80 463.46,144.28 464.31,103.22 465.17,95.95 466.02,94.47 466.88,94.63 467.73,101.31 468.59,123.47 469.44,141.10 470.30,149.66 471.15,155.49 472.01,160.27 472.86,170.89 473.72,191.34 474.57,204.01 475.43,209.72 476.28,211.88 477.14,209.19 478.00,203.35 478.85,185.57 479.71,167.12 480.56,155.73 481.42,146.05 482.27,136.19 483.13,128.03 483.98,121.25 484.84,115.42 485.69,109.16 486.55,101.52 487.40,100.11 488.26,102.59 489.11,107.73 489.97,118.87 490.82,142.00 491.68,166.65 492.54,185.33 493.39,201.88 494.25,222.83 495.10,259.48 495.96,293.76 496.81,316.76 497.67,330.97 498.52,344.37 499.38,345.41 500.23,347.65 501.09,330.00 501.94,315.39 502.80,300.67 503.65,286.50 504.51,293.09 505.36,301.34 506.22,315.38 507.08,309.60 507.93,304.75 508.79,320.50 509.64,331.08 510.50,332.44 511.35,335.51 512.21,321.58 513.06,309.70 513.92,297.79 514.77,291.73 515.63,299.87 516.48,310.60 517.34,321.98 518.19,329.44 519.05,340.15 519.90,343.22 520.76,348.68 521.62,352.30 522.47,345.88 523.33,338.20 524.18,324.48 525.04,333.47 525.89,342.69 526.75,339.27 527.60,333.30 528.46,339.63 529.31,339.47 530.17,324.78 531.02,313.88 531.88,298.00 532.73,279.89 533.59,267.76 534.44,255.05 535.30,206.82 536.16,175.71 537.01,145.28 537.87,133.50 538.72,115.01 539.58,110.35 540.43,114.88 541.29,118.78 542.14,130.29 543.00,145.00 543.85,160.49 544.71,176.18 545.56,191.78 546.42,207.05 547.27,215.06 548.13,222.72 548.98,230.30 549.84,235.01 550.70,240.69 551.55,248.38 552.41,254.89 553.26,262.16 554.12,272.35 554.97,281.61 555.83,276.24 556.68,272.38 557.54,266.90 558.39,264.57 559.25,260.33 560.10,257.95 560.96,251.69 561.81,242.71 562.67,230.27 563.52,217.06 564.38,205.08 565.23,171.96 566.09,161.04 566.95,149.73 567.80,181.02 568.66,148.30 569.51,129.27 570.37,130.79 571.22,135.57 572.08,144.35 572.93,132.75 573.79,134.64 574.64,143.07 575.50,133.47 576.35,126.39 577.21,142.70 578.06,140.57 578.92,133.08 579.77,137.83 580.63,131.02 581.49,122.28 582.34,131.54 583.20,138.74 584.05,129.85 584.91,136.46 585.76,140.58 586.62,145.49 587.47,143.92 588.33,144.40 589.18,145.87 590.04,147.99 590.89,145.88 591.75,150.08 592.60,143.15 593.46,141.70 594.31,139.12 595.17,140.50 596.03,132.39 596.88,132.18 597.74,130.99 598.59,132.97 599.45,135.28 600.30,136.10 601.16,142.66 602.01,148.82 602.87,160.17 603.72,172.56 604.58,186.12 605.43,200.40 606.29,183.30 607.14,171.37 608.00,157.29 608.85,153.37 609.71,149.28 610.57,146.63 611.42,144.94 612.28,138.57 613.13,142.87 613.99,141.41 614.84,141.99 615.70,143.27 616.55,147.58 617.41,149.63 618.26,150.93 619.12,152.53 619.97,163.14 620.83,175.30 621.68,207.13 622.54,231.38 623.39,255.20 624.25,299.55 625.11,313.26 625.96,324.15 626.82,317.34 627.67,313.06 628.53,316.75 629.38,309.51 630.24,299.50 631.09,302.53 631.95,310.76 632.80,309.78 633.66,315.56 634.51,307.56 635.37,304.46 636.22,303.33 637.08,308.04 637.93,311.10 638.79,322.70 639.65,326.43 640.50,327.52 641.36,330.91 642.21,336.52 643.07,340.22 643.92,341.95 644.78,345.95 645.63,351.44 646.49,363.17 647.34,365.52 648.20,366.66 649.05,359.89 649.91,360.70 650.76,362.23 651.62,367.19 652.47,369.62 653.33,362.24 654.19,355.62 655.04,349.42 655.90,339.62 656.75,341.70 657.61,344.16 658.46,345.91 659.32,350.62 660.17,352.62 661.03,354.81 661.88,356.43 662.74,359.76 663.59,362.92 664.45,363.64 665.30,363.47 666.16,361.28 667.01,357.67 667.87,358.77 668.73,356.94 669.58,354.70 670.44,345.00 671.29,344.30 672.15,343.96 673.00,343.85 673.86,345.00 674.71,346.95 675.57,350.31 676.42,352.63 677.28,356.57 678.13,349.53 678.99,348.10 679.84,344.07 680.70,345.56 681.55,347.72 682.41,352.52 683.27,358.15 684.12,360.70 684.98,362.23 685.83,363.32 686.69,362.72 687.54,361.14 688.40,360.82 689.25,357.71 690.11,354.84 690.96,349.51 691.82,334.59" stroke="#9467bd"/>
</g>
<!-- axes frame + ticks -->
<g fill="#000" shape-rendering="crispEdges">
<rect x="100" y="60" width="621" height="1"/>
<rect x="100" y="445" width="621" height="1"/>
<rect x="100" y="60" width="1" height="386"/>
<rect x="720" y="60" width="1" height="386"/>
<rect x="100" y="59" width="621" height="1" fill-opacity="0.055"/>
<rect x="101" y="61" width="619" height="1" fill-opacity="0.055"/>
<rect x="101" y="444" width="619" height="1" fill-opacity="0.055"/>
<rect x="100" y="446" width="621" height="1" fill-opacity="0.11"/>
<rect x="99" y="60" width="1" height="386" fill-opacity="0.055"/>
<rect x="101" y="62" width="1" height="382" fill-opacity="0.055"/>
<rect x="719" y="62" width="1" height="382" fill-opacity="0.055"/>
<rect x="721" y="60" width="1" height="386" fill-opacity="0.055"/>
<rect x="128" y="446" width="1" height="4"/><rect x="128" y="450" width="1" height="1" fill-opacity="0.5"/>
<rect x="214" y="446" width="1" height="4"/><rect x="214" y="450" width="1" height="1" fill-opacity="0.5"/>
<rect x="299" y="446" width="1" height="4"/><rect x="299" y="450" width="1" height="1" fill-opacity="0.5"/>
<rect x="385" y="446" width="1" height="4"/><rect x="385" y="450" width="1" height="1" fill-opacity="0.5"/>
<rect x="470" y="446" width="1" height="4"/><rect x="470" y="450" width="1" height="1" fill-opacity="0.5"/>
<rect x="556" y="446" width="1" height="4"/><rect x="556" y="450" width="1" height="1" fill-opacity="0.5"/>
<rect x="641" y="446" width="1" height="4"/><rect x="641" y="450" width="1" height="1" fill-opacity="0.5"/>
<rect x="96" y="60" width="4" height="1"/><rect x="95" y="60" width="1" height="1" fill-opacity="0.5"/>
<rect x="96" y="137" width="4" height="1"/><rect x="95" y="137" width="1" height="1" fill-opacity="0.5"/>
<rect x="96" y="214" width="4" height="1"/><rect x="95" y="214" width="1" height="1" fill-opacity="0.5"/>
<rect x="96" y="291" width="4" height="1"/><rect x="95" y="291" width="1" height="1" fill-opacity="0.5"/>
<rect x="96" y="368" width="4" height="1"/><rect x="95" y="368" width="1" height="1" fill-opacity="0.5"/>
<rect x="96" y="445" width="4" height="1"/><rect x="95" y="445" width="1" height="1" fill-opacity="0.5"/>
</g>
<!-- legend -->
<rect x="107.5" y="328.5" width="97" height="110" rx="2.8" ry="2.8" fill="#ffffff" fill-opacity="0.8" stroke="#cccccc" stroke-opacity="0.8" stroke-width="1.11"/>
<g fill="none" stroke-width="2.083">
<path d="M112 340h29" stroke="#1f77b4"/>
<path d="M112 361h29" stroke="#ff7f0e"/>
<path d="M112 382h29" stroke="#2ca02c"/>
<path d="M112 403h29" stroke="#d62728"/>
<path d="M112 424h29" stroke="#9467bd"/>
</g>
</svg>
<div class="t" style="left:410px;top:37px;font-size:17.6px;transform:translateX(-50%) scaleX(1.06);">Predicted lDDT per position</div>
<div class="t xt" style="left:129px;">0</div>
<div class="t xt" style="left:214px;">100</div>
<div class="t xt" style="left:299.5px;">200</div>
<div class="t xt" style="left:385px;">300</div>
<div class="t xt" style="left:470.5px;">400</div>
<div class="t xt" style="left:556px;">500</div>
<div class="t xt" style="left:641.5px;">600</div>
<div class="t yt" style="top:438px;">0</div>
<div class="t yt" style="top:362px;">20</div>
<div class="t yt" style="top:284px;">40</div>
<div class="t yt" style="top:208px;">60</div>
<div class="t yt" style="top:130px;">80</div>
<div class="t yt" style="top:54px;">100</div>
<div class="t" style="left:410.5px;top:473px;font-size:14px;transform:translateX(-50%) scaleX(1.054);">Positions</div>
<div class="t" style="left:49px;top:252.5px;font-size:14px;transform:translate(-50%,-50%) rotate(-90deg) scaleX(1.096);">Predicted lDDT</div>
<div class="t lg" style="top:333px;">rank_1</div>
<div class="t lg" style="top:354px;">rank_2</div>
<div class="t lg" style="top:375px;">rank_3</div>
<div class="t lg" style="top:396px;">rank_4</div>
<div class="t lg" style="top:417px;">rank_5</div>
</body>
</html>
